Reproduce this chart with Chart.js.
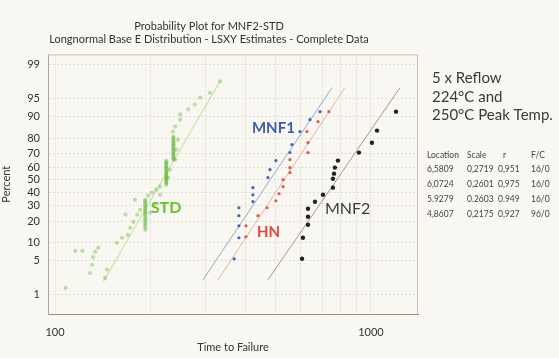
<!DOCTYPE html>
<html lang="en">
  <head>
    <meta charset="utf-8" />
    <title>Probability Plot for MNF2-STD</title>
    <style>
      * {
        margin: 0;
        padding: 0;
      }
      body {
        background: #f8f7f2;
      }
      .chartBox {
        width: 559px;
        height: 358px;
      }
    </style>
  </head>
  <body>
    <div class="chartBox"><canvas id="myChart"></canvas></div>
    <script src="https://cdn.jsdelivr.net/npm/chart.js"></script>
    <script>
      // axis ticks
      const percentTicks = [1, 5, 10, 20, 30, 40, 50, 60, 70, 80, 90, 95, 99];
      const timeTicks = [100, 200, 300, 400, 500, 600, 700, 800, 900, 1000];

      // MNF1 (blue)
      const mnf1Times = [369, 382, 382, 382, 382, 423, 423, 423, 472, 479, 500, 554, 562, 596, 641, 690];
      const mnf1Percents = [5.4, 11.9, 17.4, 23.2, 28.4, 32.7, 37.9, 43.5, 51.6, 58.0, 65.0, 70.8, 76.1, 83.5, 88.8, 91.6];
      const mnf1FitTimes = [294, 753];
      const mnf1FitPercents = [2.1, 96.9];

      // HN (red)
      const hnTimes = [402, 402, 439, 469, 500, 512, 527, 527, 554, 554, 554, 632, 632, 627, 680, 736];
      const hnPercents = [12.3, 17.4, 23.2, 28.4, 33.4, 38.7, 44.3, 49.9, 55.6, 59.6, 65.7, 70.8, 77.3, 83.5, 88.0, 91.6];
      const hnFitTimes = [328, 827];
      const hnFitPercents = [2.1, 96.9];

      // MNF2 (black)
      const mnf2Times = [605, 609, 632, 632, 632, 665, 705, 758, 758, 764, 769, 786, 916, 1007, 1045, 1200];
      const mnf2Percents = [5.4, 11.9, 18.0, 22.5, 27.7, 32.6, 37.9, 43.5, 50.7, 54.8, 59.6, 65.0, 70.8, 77.3, 84.0, 91.6];
      const mnf2FitTimes = [472, 1236];
      const mnf2FitPercents = [2.1, 96.9];

      // STD (green)
      const stdTimes = [
        108, 116, 122, 129, 131, 132, 134, 137, 144, 146, 157, 163, 170, 173, 177, 182, 186, 167, 179,
        200, 207, 215, 228, 231, 240, 242, 245,
        236, 240, 249, 249, 264, 277, 288, 309, 333,
        193, 193, 193, 193, 193, 193, 193, 193, 193, 193, 193, 193, 193, 193, 193, 193, 193, 193,
        197, 203, 209, 215,
        225, 225, 225, 225, 225, 225, 225, 225, 225, 225, 225, 225, 225, 225, 225, 225, 225, 225,
        237, 237, 237, 237, 237, 237, 237, 237, 237, 237, 237, 237, 237, 237, 237, 237, 237,
      ];
      const stdPercents = [
        1.4, 7.4, 7.4, 2.9, 4.2, 5.8, 7.1, 8.3, 2.3, 3.4, 10.0, 11.9, 13.1, 16.4, 19.6, 23.8, 27.0, 23.8, 34.2,
        25.1, 30.5, 37.9, 51.6, 58.0, 65.7, 72.8, 79.1,
        83.5, 85.9, 88.8, 90.7, 92.3, 93.6, 95.2, 96.1, 97.7,
        15.4, 16.5, 17.6, 18.7, 19.8, 20.9, 22.0, 23.2, 24.3, 25.4, 26.5, 27.7, 28.8, 29.9, 31.0, 32.1, 33.2, 34.2,
        37.2, 39.5, 41.9, 44.3,
        45.9, 47.0, 48.2, 49.3, 50.5, 51.6, 52.8, 53.9, 55.0, 56.1, 57.3, 58.4, 59.5, 60.6, 61.7, 62.8, 63.8, 64.8,
        65.7, 66.7, 67.7, 68.7, 69.7, 70.7, 71.7, 72.7, 73.6, 74.6, 75.5, 76.4, 77.3, 78.2, 79.1, 80.0, 80.9,
      ];
      const stdFitTimes = [142, 333];
      const stdFitPercents = [1.9, 97.7];

      // parameter table
      const tableHeader = ["Location", "Scale", "r", "F/C"];
      const tableRows = [
        ["6,5809", "0,2719", "0,951", "16/0"],
        ["6,0724", "0,2601", "0,975", "16/0"],
        ["5.9279", "0.2603", "0.949", "16/0"],
        ["4,8607", "0,2175", "0,927", "96/0"],
      ];

      // inverse normal cdf (Acklam) for the probability axis
      function probit(p) {
        const a = [-39.69683028665376, 220.9460984245205, -275.9285104469687, 138.357751867269, -30.66479806614716, 2.506628277459239];
        const b = [-54.47609879822406, 161.5858368580409, -155.6989798598866, 66.80131188771972, -13.28068155288572];
        const c = [-0.007784894002430293, -0.3223964580411365, -2.400758277161838, -2.549732539343734, 4.374664141464968, 2.938163982698783];
        const d = [0.007784695709041462, 0.3224671290700398, 2.445134137142996, 3.754408661907416];
        const pl = 0.02425;
        let q, r;
        if (p < pl) {
          q = Math.sqrt(-2 * Math.log(p));
          return (((((c[0] * q + c[1]) * q + c[2]) * q + c[3]) * q + c[4]) * q + c[5]) /
            ((((d[0] * q + d[1]) * q + d[2]) * q + d[3]) * q + 1);
        }
        if (p > 1 - pl) {
          q = Math.sqrt(-2 * Math.log(1 - p));
          return -(((((c[0] * q + c[1]) * q + c[2]) * q + c[3]) * q + c[4]) * q + c[5]) /
            ((((d[0] * q + d[1]) * q + d[2]) * q + d[3]) * q + 1);
        }
        q = p - 0.5;
        r = q * q;
        return (((((a[0] * r + a[1]) * r + a[2]) * r + a[3]) * r + a[4]) * r + a[5]) * q /
          (((((b[0] * r + b[1]) * r + b[2]) * r + b[3]) * r + b[4]) * r + 1);
      }

      const toPoints = (times, percents) =>
        times.map((t, i) => ({ x: t, y: probit(percents[i] / 100) }));

      const FONT = 'Lato, "Open Sans", sans-serif';
      Chart.defaults.font.family = FONT;
      Chart.defaults.color = "#333";

      // background, frame and the text around the plot
      const paperPlugin = {
        id: "paper",
        beforeDraw(chart) {
          const { ctx, width, height } = chart;
          ctx.save();
          ctx.fillStyle = "#f8f7f2";
          ctx.fillRect(0, 0, width, height);
          ctx.restore();
        },
        beforeDatasetsDraw(chart) {
          const { ctx, chartArea: a } = chart;
          ctx.save();
          ctx.strokeStyle = "#c9c2b2";
          ctx.lineWidth = 1;
          ctx.beginPath();
          ctx.moveTo(a.left, a.top + 0.5);
          ctx.lineTo(a.right - 0.5, a.top + 0.5);
          ctx.lineTo(a.right - 0.5, a.bottom);
          ctx.stroke();
          ctx.restore();
        },
        afterDraw(chart) {
          const { ctx } = chart;
          const xs = chart.scales.x;
          const ys = chart.scales.y;
          ctx.save();
          ctx.textBaseline = "middle";
          ctx.textAlign = "left";
          const labels = [
            { text: "STD", t: 201, p: 28.4, color: "#6cbf2e", font: "bold 16px " + FONT },
            { text: "MNF1", t: 420, p: 85.0, color: "#3f5daa", font: "bold 15px " + FONT },
            { text: "HN", t: 436, p: 14.5, color: "#e8433d", font: "bold 15px " + FONT },
            { text: "MNF2", t: 715, p: 27.7, color: "#3a3a3a", font: "16px " + FONT },
          ];
          labels.forEach((l) => {
            ctx.font = l.font;
            ctx.fillStyle = l.color;
            ctx.fillText(l.text, xs.getPixelForValue(l.t), ys.getPixelForValue(probit(l.p / 100)));
          });

          // notes on the right
          ctx.textBaseline = "alphabetic";
          ctx.fillStyle = "#3a3a3a";
          ctx.font = "15px " + FONT;
          ctx.fillText("5 x Reflow", 432, 83);
          ctx.fillText("224°C and", 432, 102);
          ctx.fillText("250°C Peak Temp.", 432, 120);

          ctx.font = "8.5px " + FONT;
          ctx.fillStyle = "#444";
          const colX = [427, 467, 498, 531];
          ctx.textBaseline = "middle";
          tableHeader.forEach((h, i) => ctx.fillText(h, i === 2 ? 503 : colX[i], 155));
          tableRows.forEach((row, r) => {
            row.forEach((v, i) => ctx.fillText(v, colX[i], 169 + r * 15));
          });
          ctx.restore();
        },
      };

      const data = {
        datasets: [
          {
            label: "MNF2",
            data: toPoints(mnf2Times, mnf2Percents),
            backgroundColor: "#222",
            pointRadius: 2.2,
            pointBorderWidth: 0,
          },
          {
            label: "MNF1",
            data: toPoints(mnf1Times, mnf1Percents),
            backgroundColor: "#4565b5",
            pointRadius: 1.6,
            pointBorderWidth: 0,
          },
          {
            label: "HN",
            data: toPoints(hnTimes, hnPercents),
            backgroundColor: "#e35a4c",
            pointRadius: 1.6,
            pointBorderWidth: 0,
          },
          {
            label: "STD",
            data: toPoints(stdTimes, stdPercents),
            backgroundColor: "rgba(75, 170, 25, 0.34)",
            pointRadius: 2.1,
            pointBorderWidth: 0,
          },
          {
            label: "MNF2 fit",
            data: toPoints(mnf2FitTimes, mnf2FitPercents),
            showLine: true,
            borderColor: "#a39a8a",
            borderWidth: 1,
            pointRadius: 0,
          },
          {
            label: "MNF1 fit",
            data: toPoints(mnf1FitTimes, mnf1FitPercents),
            showLine: true,
            borderColor: "#9aa6cf",
            borderWidth: 1,
            pointRadius: 0,
          },
          {
            label: "HN fit",
            data: toPoints(hnFitTimes, hnFitPercents),
            showLine: true,
            borderColor: "#eeb0a6",
            borderWidth: 1,
            pointRadius: 0,
          },
          {
            label: "STD fit",
            data: toPoints(stdFitTimes, stdFitPercents),
            showLine: true,
            borderColor: "rgba(160, 215, 100, 0.45)",
            borderWidth: 1.5,
            pointRadius: 0,
          },
        ],
      };

      const config = {
        type: "scatter",
        data,
        options: {
          responsive: true,
          maintainAspectRatio: false,
          animation: false,
          layout: { padding: { left: 0, right: 141, top: 0, bottom: 4 } },
          plugins: {
            legend: { display: false },
            tooltip: { enabled: false },
            title: {
              display: true,
              text: [
                "Probability Plot for MNF2-STD",
                "Longnormal Base E Distribution - LSXY Estimates - Complete Data",
              ],
              color: "#333",
              font: { size: 11, weight: "normal", lineHeight: 1.2 },
              padding: { top: 20, bottom: 8 },
            },
          },
          scales: {
            x: {
              type: "logarithmic",
              min: 95,
              max: 1409,
              afterBuildTicks: (scale) => {
                scale.ticks = timeTicks.map((v) => ({ value: v }));
              },
              afterFit: (scale) => {
                scale.height = 40;
              },
              ticks: {
                autoSkip: false,
                maxRotation: 0,
                padding: 12,
                font: { size: 11 },
                callback: (v) => (v === 100 || v === 1000 ? String(v) : ""),
              },
              grid: { color: "#e0dcd0", drawTicks: false },
              border: { color: "#9a8f78", width: 1, dash: [2, 2] },
              title: {
                display: true,
                text: "Time to Failure",
                font: { size: 11 },
                padding: 0,
              },
            },
            y: {
              type: "linear",
              min: -2.727,
              max: 2.54,
              afterBuildTicks: (scale) => {
                scale.ticks = percentTicks.map((p) => ({ value: probit(p / 100) }));
              },
              afterFit: (scale) => {
                scale.width = 48;
              },
              ticks: {
                autoSkip: false,
                padding: 8,
                font: { size: 11 },
                callback: (v, i) => percentTicks[i],
              },
              grid: { color: "#e0dcd0", drawTicks: false },
              border: { color: "#b3a88f", width: 1, dash: [2, 2] },
              title: {
                display: true,
                text: "Percent",
                font: { size: 11 },
                padding: 0,
              },
            },
          },
        },
        plugins: [paperPlugin],
      };

      const myChart = new Chart(document.getElementById("myChart"), config);
    </script>
  </body>
</html>
